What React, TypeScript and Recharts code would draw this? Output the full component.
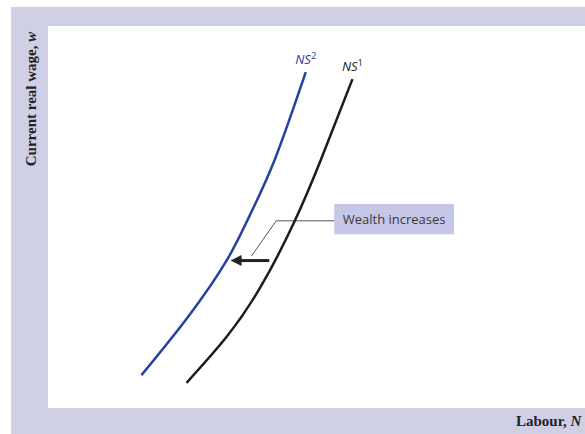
import React from 'react';
import {
  Line,
  LineChart,
  ReferenceArea,
  ReferenceDot,
  ReferenceLine,
  XAxis,
  YAxis,
} from 'recharts';

// Labour supply curves: labour on x, current real wage on y (0–100 index scale)
const NS2_LABOUR = [17.4, 26.1, 33.3, 37.6, 42.2, 48.0];
const NS2_WAGE = [8.6, 23.9, 38.7, 50.5, 64.9, 87.9];

const NS1_LABOUR = [25.8, 33.3, 39.8, 45.9, 50.8, 56.7];
const NS1_WAGE = [6.6, 18.7, 32.2, 48.8, 64.9, 86.1];

// Shift arrow and the callout pointing at it
const SHIFT_FROM = { labour: 41.2, wage: 38.6 };
const SHIFT_TO = { labour: 34.0, wage: 38.6 };
const CALLOUT_LABEL = 'Wealth increases';
const CALLOUT_BOX = { x1: 53.3, x2: 75.6, y1: 45.5, y2: 53.4 };
const CALLOUT_LEADER = [
  { labour: 53.3, wage: 49.0 },
  { labour: 42.5, wage: 49.0 },
  { labour: 37.9, wage: 39.8 },
];

const toPoints = (xs: number[], ys: number[]) => xs.map((x, i) => ({ labour: x, wage: ys[i] }));

const ns2Data = toPoints(NS2_LABOUR, NS2_WAGE);
const ns1Data = toPoints(NS1_LABOUR, NS1_WAGE);

const BLUE = '#2541a0';
const BLACK = '#1c1c1c';
const LAVENDER = '#cfd0e6';

const curveLabel = (name: string, sup: string, color: string) => (props: any) => {
  const { viewBox } = props;
  const cx = viewBox.x + viewBox.width / 2;
  const cy = viewBox.y;
  return (
    <text
      x={cx}
      y={cy - 8}
      textAnchor="middle"
      fill={color}
      fontFamily="'Open Sans', sans-serif"
      fontStyle="italic"
      fontSize={13}
    >
      {name}
      <tspan dy={-5} fontSize={9.5} fontStyle="normal">{sup}</tspan>
    </text>
  );
};

const ArrowShape = (props: any) => {
  const { x1, y1, x2, y2 } = props;
  const dir = x2 < x1 ? 1 : -1;
  const head = 9;
  return (
    <g>
      <line x1={x1} y1={y1} x2={x2 + dir * head} y2={y2} stroke="#222" strokeWidth={3} />
      <polygon
        points={`${x2},${y2} ${x2 + dir * (head + 2)},${y2 - 5.5} ${x2 + dir * (head + 2)},${y2 + 5.5}`}
        fill="#222"
      />
    </g>
  );
};

const App: React.FC = () => {
  return (
    <div style={{ position: 'absolute', left: 0, top: 0, width: 585, height: 434, background: '#fff', overflow: 'hidden' }}>
      <div style={{ position: 'absolute', left: 11, top: 7, width: 574, height: 427, background: LAVENDER }} />
      <div style={{ position: 'absolute', left: 48, top: 26, width: 537, height: 382, background: '#fff' }} />

      <div
        style={{
          position: 'absolute',
          left: 31,
          top: 99,
          transform: 'translate(-50%, -50%) rotate(-90deg)',
          whiteSpace: 'nowrap',
          fontFamily: "'Liberation Serif', serif",
          fontWeight: 'bold',
          fontSize: 15,
          color: '#222',
        }}
      >
        Current real wage, <i>w</i>
      </div>
      <div
        style={{
          position: 'absolute',
          left: 516,
          top: 413,
          whiteSpace: 'nowrap',
          fontFamily: "'Liberation Serif', serif",
          fontWeight: 'bold',
          fontSize: 15,
          color: '#222',
        }}
      >
        Labour, <i>N</i>
      </div>

      <div style={{ position: 'absolute', left: 0, top: 0 }}>
        <LineChart width={585} height={434} margin={{ top: 26, right: 0, bottom: 26, left: 48 }}>
          <XAxis
            type="number"
            dataKey="labour"
            domain={[0, 100]}
            height={0}
            tick={false}
            tickLine={false}
            axisLine={{ stroke: '#4a4a4a', strokeWidth: 1.5 }}
            allowDataOverflow
          />
          <YAxis
            type="number"
            dataKey="wage"
            domain={[0, 100]}
            width={0}
            tick={false}
            tickLine={false}
            axisLine={{ stroke: '#4a4a4a', strokeWidth: 1.5 }}
            allowDataOverflow
          />

          <ReferenceArea
            x1={CALLOUT_BOX.x1}
            x2={CALLOUT_BOX.x2}
            y1={CALLOUT_BOX.y1}
            y2={CALLOUT_BOX.y2}
            fill="#c6c7e7"
            fillOpacity={1}
            stroke="none"
            label={{
              value: CALLOUT_LABEL,
              position: 'center',
              fill: '#3a3a3a',
              fontSize: 13,
              fontFamily: "'Open Sans', sans-serif",
            }}
          />
          <ReferenceLine
            segment={[
              { x: CALLOUT_LEADER[0].labour, y: CALLOUT_LEADER[0].wage },
              { x: CALLOUT_LEADER[1].labour, y: CALLOUT_LEADER[1].wage },
            ]}
            stroke="#555"
            strokeWidth={1}
          />
          <ReferenceLine
            segment={[
              { x: CALLOUT_LEADER[1].labour, y: CALLOUT_LEADER[1].wage },
              { x: CALLOUT_LEADER[2].labour, y: CALLOUT_LEADER[2].wage },
            ]}
            stroke="#555"
            strokeWidth={1}
          />

          <Line
            data={ns2Data}
            dataKey="wage"
            type="natural"
            stroke={BLUE}
            strokeWidth={2.5}
            dot={false}
            activeDot={false}
            isAnimationActive={false}
          />
          <Line
            data={ns1Data}
            dataKey="wage"
            type="natural"
            stroke={BLACK}
            strokeWidth={2.5}
            dot={false}
            activeDot={false}
            isAnimationActive={false}
          />

          <ReferenceLine
            segment={[
              { x: SHIFT_FROM.labour, y: SHIFT_FROM.wage },
              { x: SHIFT_TO.labour, y: SHIFT_TO.wage },
            ]}
            shape={ArrowShape}
          />

          <ReferenceDot
            x={NS2_LABOUR[NS2_LABOUR.length - 1]}
            y={NS2_WAGE[NS2_WAGE.length - 1]}
            r={0}
            fill="none"
            stroke="none"
            label={{ content: curveLabel('NS', '2', BLUE) }}
          />
          <ReferenceDot
            x={NS1_LABOUR[NS1_LABOUR.length - 1]}
            y={NS1_WAGE[NS1_WAGE.length - 1]}
            r={0}
            fill="none"
            stroke="none"
            label={{ content: curveLabel('NS', '1', BLACK) }}
          />
        </LineChart>
      </div>
    </div>
  );
};

export default App;
